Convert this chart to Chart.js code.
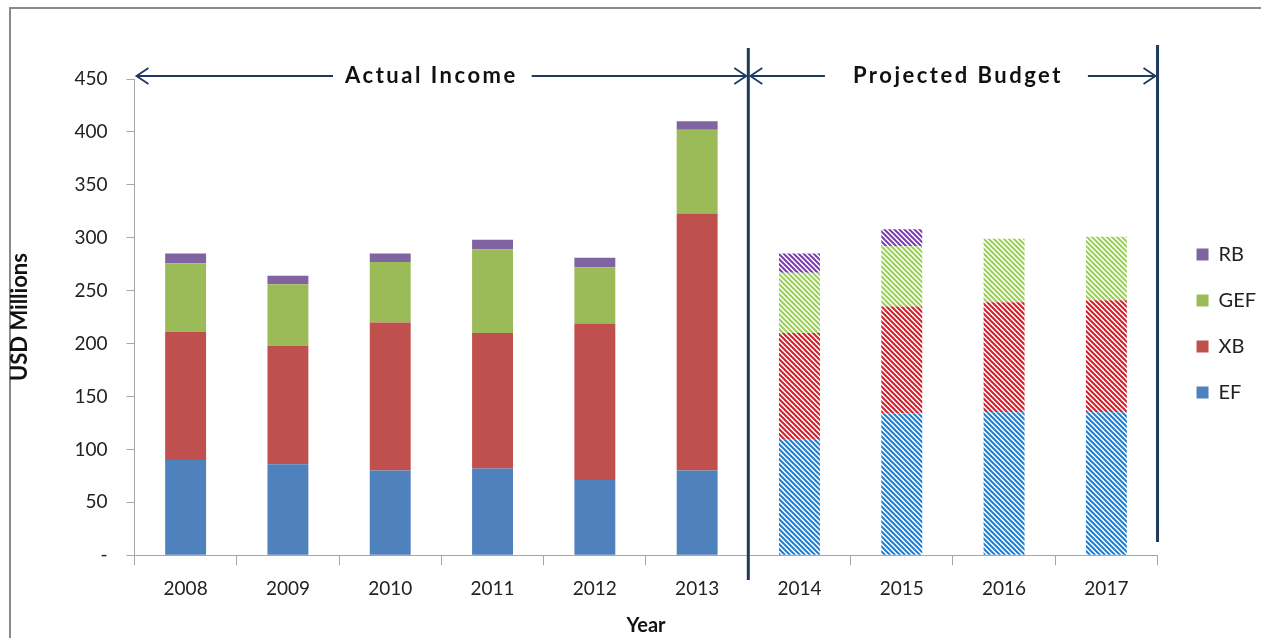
<!DOCTYPE html>
<html>
<head>
<meta charset="utf-8">
<script src="https://cdn.jsdelivr.net/npm/chart.js@4.4.1/dist/chart.umd.min.js"></script>
<style>
  html, body { margin: 0; padding: 0; background: #fff; }
  #wrap { width: 1261px; height: 638px; }
</style>
</head>
<body>
<div id="wrap"><canvas id="income_chart"></canvas></div>
<script>
// data (USD millions)
var years = ["2008", "2009", "2010", "2011", "2012", "2013", "2014", "2015", "2016", "2017"];
var ef_data  = [90, 86, 80, 82, 71, 80, 109, 134, 135, 135];
var xb_data  = [121, 112, 140, 128, 148, 243, 101, 101, 104, 106];
var gef_data = [65, 58, 57, 79, 53, 79, 57, 57, 60, 60];
var rb_data  = [9, 8, 8, 9, 9, 8, 18, 16, 0, 0];
var firstProjected = 6; // 2014 onwards is projected budget

function hatch(color) {
    var s = 5;
    var c = document.createElement("canvas");
    c.width = s; c.height = s;
    var g = c.getContext("2d");
    g.fillStyle = "#fff";
    g.fillRect(0, 0, s, s);
    g.strokeStyle = color;
    g.lineWidth = 2;
    g.beginPath();
    g.moveTo(-1, -1); g.lineTo(s + 1, s + 1);
    g.moveTo(-1 - s, -1); g.lineTo(1, s + 1);
    g.moveTo(s - 1, -1); g.lineTo(2 * s + 1, s + 1);
    g.stroke();
    return g.createPattern(c, "repeat");
}

function fills(solid, hatchColor) {
    var p = hatch(hatchColor);
    return years.map(function (y, i) { return i < firstProjected ? solid : p; });
}

var navy = "#1f3a60";

var annotations = {
    id: "annotations",
    afterLayout: function (chart) {
        // nudge the legend away from the plot and up a bit
        chart.legend.left += 13;
        chart.legend.right += 13;
        chart.legend.top -= 35;
        chart.legend.bottom -= 35;
    },
    beforeDraw: function (chart) {
        var ctx = chart.ctx;
        ctx.save();
        ctx.strokeStyle = "#8a8a8a";
        ctx.lineWidth = 2;
        ctx.beginPath();
        ctx.moveTo(10, 638); ctx.lineTo(10, 8); ctx.lineTo(1261, 8);
        ctx.stroke();
        ctx.restore();
    },
    afterDraw: function (chart) {
        var ctx = chart.ctx, x = chart.scales.x, y = chart.scales.y;
        var split = (x.getPixelForValue(firstProjected - 1) + x.getPixelForValue(firstProjected)) / 2;
        var left = x.left, right = x.right;
        var ay = y.getPixelForValue(450) - 3;
        ctx.save();
        ctx.strokeStyle = navy;
        ctx.lineWidth = 3;
        ctx.beginPath();
        ctx.moveTo(split, 48); ctx.lineTo(split, 580);
        ctx.moveTo(right, 45); ctx.lineTo(right, 542);
        ctx.stroke();

        ctx.font = "bold 22px Lato";
        ctx.letterSpacing = "2.5px";
        ctx.fillStyle = "#111";
        ctx.textAlign = "center";
        ctx.textBaseline = "middle";

        function span(x0, x1, label, cx, gapL, gapR) {
            var w = ctx.measureText(label).width;
            ctx.fillText(label, cx, ay);
            ctx.lineWidth = 1.8;
            ctx.beginPath();
            ctx.moveTo(x0 + 2, ay); ctx.lineTo(cx - w / 2 - gapL, ay);
            ctx.moveTo(cx + w / 2 + gapR, ay); ctx.lineTo(x1 - 2, ay);
            // arrow heads
            ctx.moveTo(x0 + 14, ay - 8); ctx.lineTo(x0 + 2, ay); ctx.lineTo(x0 + 14, ay + 8);
            ctx.moveTo(x1 - 14, ay - 8); ctx.lineTo(x1 - 2, ay); ctx.lineTo(x1 - 14, ay + 8);
            ctx.stroke();
        }
        span(left, split, "Actual Income", (left + split) / 2 - 10, 12, 14);
        span(split, right, "Projected Budget", (split + right) / 2 + 5, 28, 25);
        ctx.restore();
    }
};

var a = document.getElementById("income_chart");
new Chart(a, {
    type: "bar",
    plugins: [annotations],
    data: {
        labels: years,
        datasets: [
            { label: "EF",  data: ef_data,  backgroundColor: fills("#4f81bd", "#1e7ed0") },
            { label: "XB",  data: xb_data,  backgroundColor: fills("#c0504d", "#d0202c") },
            { label: "GEF", data: gef_data, backgroundColor: fills("#9bbb59", "#9ad05a") },
            { label: "RB",  data: rb_data,  backgroundColor: fills("#8064a2", "#7a3cb0") }
        ]
    },
    options: {
        responsive: true,
        maintainAspectRatio: false,
        animation: false,
        layout: { padding: { top: 79, right: 8, bottom: 0, left: 7 } },
        datasets: { bar: { barPercentage: 0.4, categoryPercentage: 1 } },
        plugins: {
            tooltip: { enabled: false },
            legend: {
                position: "right",
                reverse: true,
                labels: {
                    boxWidth: 12, boxHeight: 12, padding: 26,
                    color: "#222",
                    font: { family: "Lato", size: 20 }
                }
            }
        },
        scales: {
            x: {
                stacked: true,
                grid: { drawOnChartArea: false, offset: true, color: "#a6a6a6", tickLength: 10 },
                border: { color: "#a6a6a6" },
                ticks: { color: "#222", font: { family: "Lato", size: 19 }, padding: 12 },
                title: { display: true, text: "Year", color: "#111", font: { family: "Lato", size: 20, weight: "bold" }, padding: { top: 2, bottom: 0 } }
            },
            y: {
                stacked: true,
                min: 0, max: 450,
                grid: { drawOnChartArea: false, color: "#a6a6a6", tickLength: 8 },
                border: { color: "#a6a6a6" },
                ticks: {
                    stepSize: 50,
                    color: "#222",
                    font: { family: "Lato", size: 19 },
                    padding: 19,
                    callback: function (v) { return v === 0 ? "-" : v; }
                },
                title: { display: true, text: "USD Millions", color: "#111", font: { family: "Lato", size: 22, weight: "bold" }, padding: { top: 0, bottom: 22 } }
            }
        }
    }
});
</script>
</body>
</html>
